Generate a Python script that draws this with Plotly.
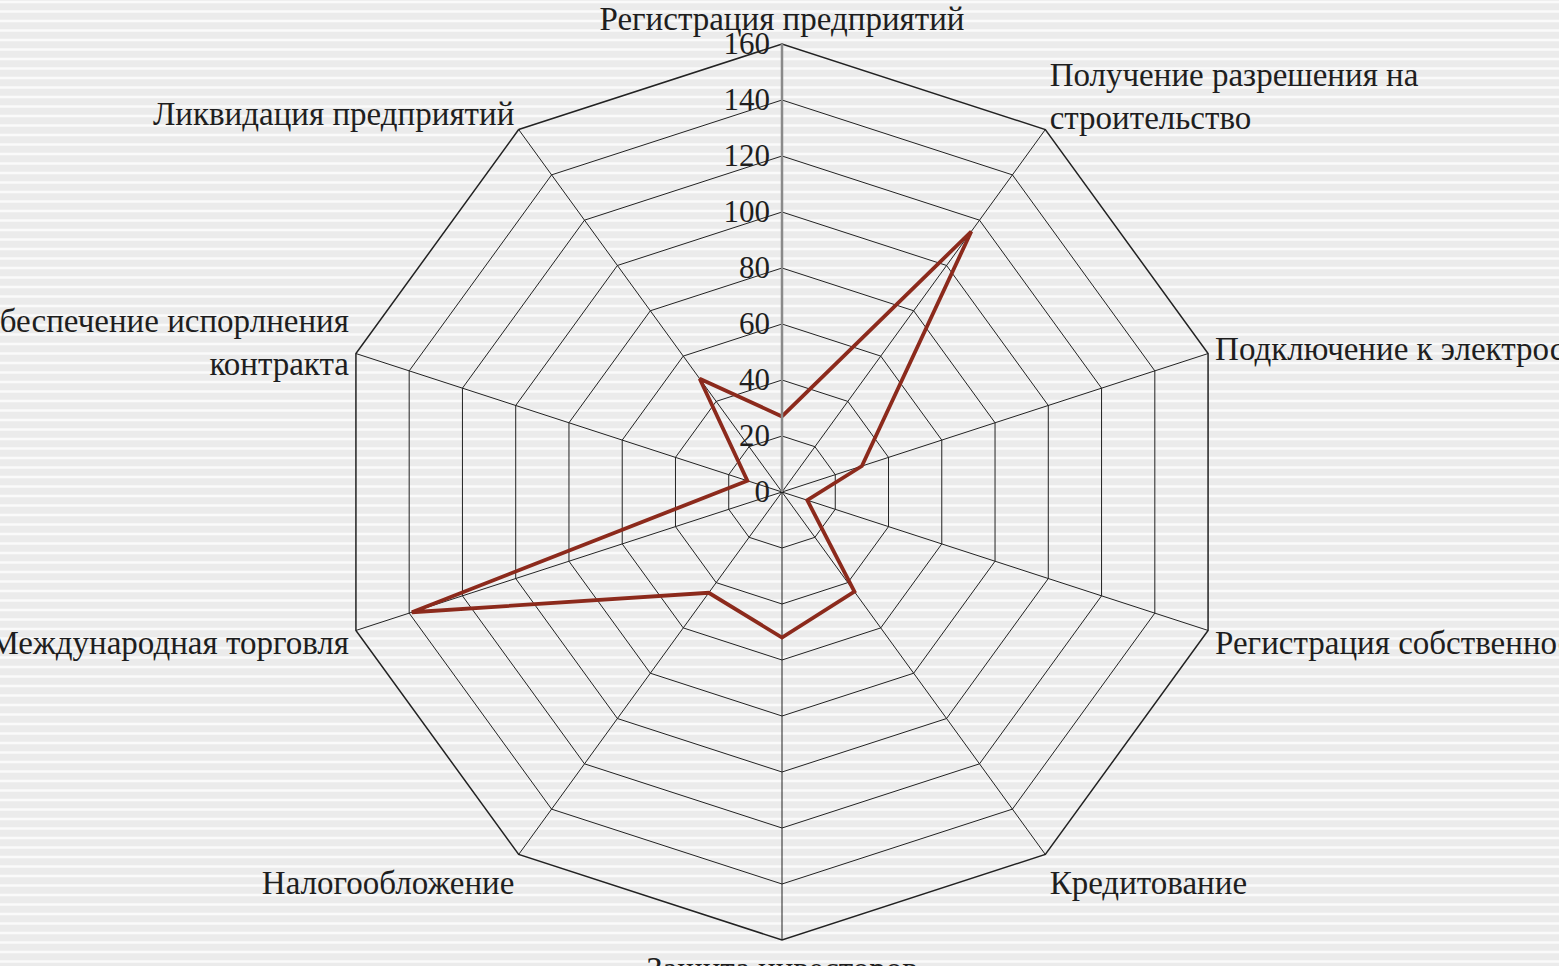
import plotly.graph_objects as go

categories = [
    "Регистрация предприятий",
    "Получение разрешения на<br>строительство",
    "Подключение к электросетям",
    "Регистрация собственности",
    "Кредитование",
    "Защита инвесторов",
    "Налогообложение",
    "Международная торговля",
    "Обеспечение испорлнения<br>контракта",
    "Ликвидация предприятий",
]
values = [27, 115, 30, 9.5, 44, 52, 44.5, 139, 13, 50]
radial_ticks = [0, 20, 40, 60, 80, 100, 120, 140, 160]

FONT = "Liberation Serif"
W, H = 1559, 966

fig = go.Figure()
fig.add_trace(go.Scatterpolar(
    r=values + values[:1],
    theta=categories + categories[:1],
    mode="lines",
    line=dict(color="#8c2a1c", width=3.8),
    showlegend=False,
))

# striped background
shapes = []
y = 2.0
while y < H:
    shapes.append(dict(type="line", xref="paper", yref="paper",
                       x0=0, x1=1, y0=1 - y / H, y1=1 - y / H,
                       line=dict(color="#fafafa", width=2.5), layer="below"))
    y += 9.5

cx, cy, R = 782, 492, 448
fig.update_layout(
    width=W, height=H,
    margin=dict(l=0, r=0, t=0, b=0),
    paper_bgcolor="#ebebeb",
    plot_bgcolor="rgba(0,0,0,0)",
    font=dict(family=FONT, size=33, color="#1e1e1e"),
    shapes=shapes,
    polar=dict(
        domain=dict(x=[(cx - R) / W, (cx + R) / W], y=[1 - (cy + R) / H, 1 - (cy - R) / H]),
        bgcolor="rgba(0,0,0,0)",
        gridshape="linear",
        angularaxis=dict(
            rotation=90, direction="clockwise",
            showline=True, linecolor="#222222", linewidth=1.5,
            showgrid=True, gridcolor="#222222", gridwidth=1.4,
            ticks="", tickfont=dict(family=FONT, size=33, color="#1e1e1e"),
        ),
        radialaxis=dict(
            range=[0, 160], tickvals=radial_ticks, ticktext=[str(t) for t in radial_ticks],
            angle=90, tickangle=90, side="counterclockwise",
            showline=True, linecolor="#8a8a8a", linewidth=2.5,
            showgrid=True, gridcolor="#222222", gridwidth=1.4,
            ticks="", tickfont=dict(family=FONT, size=31, color="#1e1e1e"),
        ),
    ),
)

fig.write_html("out.html", config={"displayModeBar": False},
               post_script="document.body.style.margin='0';")
